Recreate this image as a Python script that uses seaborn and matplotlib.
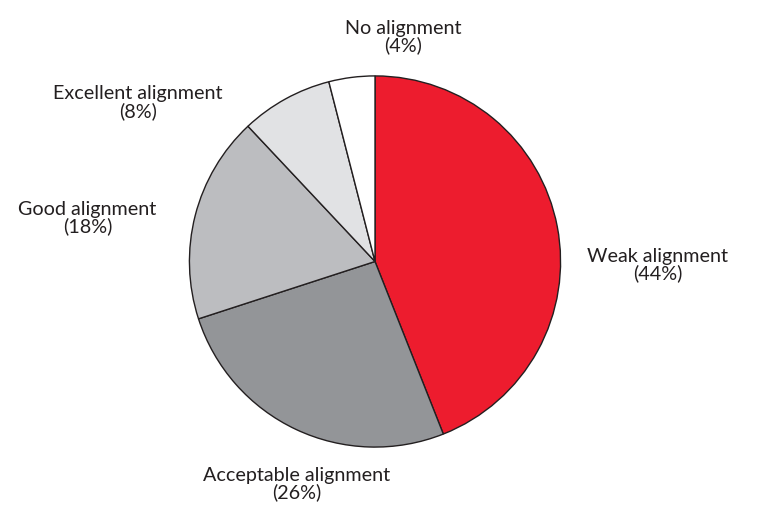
import matplotlib
matplotlib.use("Agg")
import matplotlib.pyplot as plt
import seaborn as sns

# Share of respondents by degree of alignment
categories = ["Weak alignment", "Acceptable alignment", "Good alignment",
              "Excellent alignment", "No alignment"]
shares = [44, 26, 18, 8, 4]
colors = ["#ED1C2E", "#939598", "#BCBDC0", "#E1E2E4", "#FFFFFF"]

# Label anchor points, in units of the pie radius
label_pos = [(1.523, -0.015), (-0.421, -1.193), (-1.550, 0.239),
             (-1.276, 0.861), (0.150, 1.214)]

sns.set_theme(style="white")
plt.rcParams["font.family"] = ["Lato", "DejaVu Sans"]

fig = plt.figure(figsize=(7.71, 5.10), dpi=100)
ax = fig.add_axes([188.5 / 771, 61 / 510, 373 / 771, 373 / 510])

ax.pie(shares, colors=colors, startangle=90, counterclock=False,
       radius=1.0,
       wedgeprops=dict(edgecolor="#231F20", linewidth=1.0))
ax.set_xlim(-1.005, 1.005)
ax.set_ylim(-1.005, 1.005)
ax.set_aspect("equal")
ax.axis("off")

for name, val, (x, y) in zip(categories, shares, label_pos):
    ax.text(x, y, f"{name}\n({val}%)", ha="center", va="center",
            fontsize=14.2, color="#231F20", linespacing=0.98, clip_on=False)

fig.savefig("out.png", dpi=100)
